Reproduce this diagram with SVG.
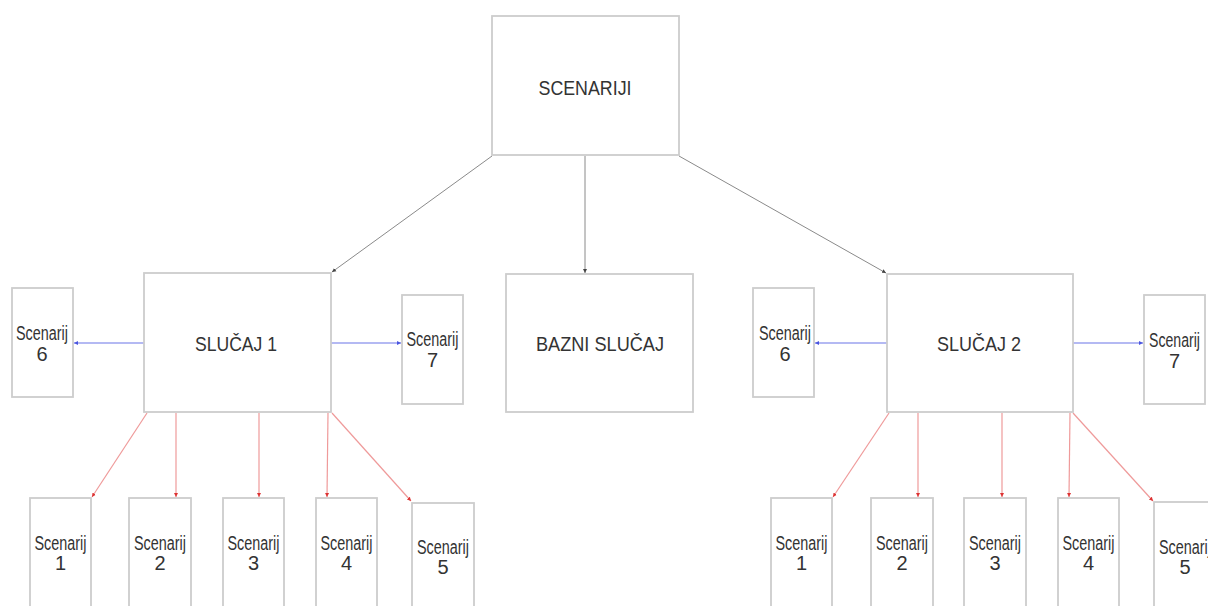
<svg xmlns="http://www.w3.org/2000/svg" width="1208" height="606" viewBox="0 0 1208 606">
<style>
.box{fill:#fff;stroke:#cdcdcd;stroke-width:1.8}
.t{font-family:"Liberation Sans",Arial,sans-serif;fill:#333;text-anchor:middle}
.big{font-size:21px}
.sm{font-size:20px}
.k{stroke:#8a8a8a;stroke-width:1;fill:none}
.b{stroke:#b4b9f3;stroke-width:2.2;fill:none}
.r{stroke:#ef9a9a;stroke-width:1.2;fill:none}
</style>
<defs>
<marker id="ak" markerWidth="5" markerHeight="5" refX="4" refY="2.5" orient="auto" markerUnits="userSpaceOnUse"><path d="M0,0.5 L4,2.5 L0,4.5Z" fill="#444"/></marker>
<marker id="ab" markerWidth="5" markerHeight="5" refX="4" refY="2.5" orient="auto" markerUnits="userSpaceOnUse"><path d="M0,0.5 L4,2.5 L0,4.5Z" fill="#4a55e0"/></marker>
<marker id="ar" markerWidth="5" markerHeight="5" refX="4" refY="2.5" orient="auto" markerUnits="userSpaceOnUse"><path d="M0,0.5 L4,2.5 L0,4.5Z" fill="#d33"/></marker>
</defs>
<rect width="1208" height="606" fill="#fff"/>
<g id="connectors">
<line class="k" x1="492" y1="156" x2="332" y2="272" marker-end="url(#ak)"/>
<line class="k" x1="585" y1="156" x2="585" y2="273" marker-end="url(#ak)"/>
<line class="k" x1="679" y1="156" x2="886" y2="273" marker-end="url(#ak)"/>
<line class="b" x1="144" y1="343" x2="74" y2="343" marker-end="url(#ab)"/>
<line class="b" x1="331" y1="343" x2="401" y2="343" marker-end="url(#ab)"/>
<line class="b" x1="887" y1="343" x2="815" y2="343" marker-end="url(#ab)"/>
<line class="b" x1="1073" y1="343" x2="1143" y2="343" marker-end="url(#ab)"/>
<line class="r" x1="147" y1="413" x2="92" y2="497" marker-end="url(#ar)"/>
<line class="r" x1="176" y1="413" x2="176" y2="497" marker-end="url(#ar)"/>
<line class="r" x1="259" y1="413" x2="259" y2="497" marker-end="url(#ar)"/>
<line class="r" x1="328" y1="413" x2="327" y2="497" marker-end="url(#ar)"/>
<line class="r" x1="332" y1="413" x2="411" y2="501" marker-end="url(#ar)"/>
<line class="r" x1="889" y1="413" x2="833" y2="497" marker-end="url(#ar)"/>
<line class="r" x1="918" y1="413" x2="918" y2="497" marker-end="url(#ar)"/>
<line class="r" x1="1002" y1="413" x2="1002" y2="497" marker-end="url(#ar)"/>
<line class="r" x1="1070" y1="413" x2="1069" y2="497" marker-end="url(#ar)"/>
<line class="r" x1="1073" y1="413" x2="1153" y2="501" marker-end="url(#ar)"/>
</g>
<g id="scenariji"><rect class="box" x="492" y="16" width="187" height="139"/><text class="t big" x="585" y="95" textLength="93" lengthAdjust="spacingAndGlyphs">SCENARIJI</text></g>
<g id="slucaj1"><rect class="box" x="144" y="273" width="187" height="139"/><text class="t big" x="236" y="351" textLength="82" lengthAdjust="spacingAndGlyphs">SLUČAJ 1</text></g>
<g id="bazni"><rect class="box" x="506" y="274" width="187" height="138"/><text class="t big" x="600" y="351" textLength="128" lengthAdjust="spacingAndGlyphs">BAZNI SLUČAJ</text></g>
<g id="slucaj2"><rect class="box" x="887" y="274" width="186" height="138"/><text class="t big" x="979" y="351" textLength="84" lengthAdjust="spacingAndGlyphs">SLUČAJ 2</text></g>
<g id="s1-6"><rect class="box" x="12" y="288" width="61" height="109"/><text class="t sm" x="42" y="340" textLength="52" lengthAdjust="spacingAndGlyphs">Scenarij</text><text class="t sm" x="42" y="361">6</text></g>
<g id="s1-7"><rect class="box" x="402" y="295" width="61" height="109"/><text class="t sm" x="432.5" y="346" textLength="52" lengthAdjust="spacingAndGlyphs">Scenarij</text><text class="t sm" x="432.5" y="367">7</text></g>
<g id="s2-6"><rect class="box" x="753" y="288" width="61" height="109"/><text class="t sm" x="785" y="340" textLength="52" lengthAdjust="spacingAndGlyphs">Scenarij</text><text class="t sm" x="785" y="361">6</text></g>
<g id="s2-7"><rect class="box" x="1144" y="295" width="61" height="109"/><text class="t sm" x="1174.5" y="347" textLength="51" lengthAdjust="spacingAndGlyphs">Scenarij</text><text class="t sm" x="1174.5" y="368">7</text></g>
<g id="s1-1"><rect class="box" x="30" y="498" width="61" height="130"/><text class="t sm" x="60.5" y="550" textLength="52" lengthAdjust="spacingAndGlyphs">Scenarij</text><text class="t sm" x="60.5" y="570">1</text></g>
<g id="s1-2"><rect class="box" x="129" y="498" width="62" height="130"/><text class="t sm" x="160" y="550" textLength="52" lengthAdjust="spacingAndGlyphs">Scenarij</text><text class="t sm" x="160" y="570">2</text></g>
<g id="s1-3"><rect class="box" x="223" y="498" width="61" height="130"/><text class="t sm" x="253.5" y="550" textLength="52" lengthAdjust="spacingAndGlyphs">Scenarij</text><text class="t sm" x="253.5" y="570">3</text></g>
<g id="s1-4"><rect class="box" x="316" y="498" width="61" height="130"/><text class="t sm" x="346.5" y="550" textLength="52" lengthAdjust="spacingAndGlyphs">Scenarij</text><text class="t sm" x="346.5" y="570">4</text></g>
<g id="s1-5"><rect class="box" x="412" y="503" width="62" height="130"/><text class="t sm" x="443" y="554" textLength="52" lengthAdjust="spacingAndGlyphs">Scenarij</text><text class="t sm" x="443" y="574">5</text></g>
<g id="s2-1"><rect class="box" x="771" y="498" width="61" height="130"/><text class="t sm" x="801.5" y="550" textLength="52" lengthAdjust="spacingAndGlyphs">Scenarij</text><text class="t sm" x="801.5" y="570">1</text></g>
<g id="s2-2"><rect class="box" x="871" y="498" width="62" height="130"/><text class="t sm" x="902" y="550" textLength="52" lengthAdjust="spacingAndGlyphs">Scenarij</text><text class="t sm" x="902" y="570">2</text></g>
<g id="s2-3"><rect class="box" x="964" y="498" width="62" height="130"/><text class="t sm" x="995" y="550" textLength="52" lengthAdjust="spacingAndGlyphs">Scenarij</text><text class="t sm" x="995" y="570">3</text></g>
<g id="s2-4"><rect class="box" x="1058" y="498" width="61" height="130"/><text class="t sm" x="1088.5" y="550" textLength="52" lengthAdjust="spacingAndGlyphs">Scenarij</text><text class="t sm" x="1088.5" y="570">4</text></g>
<g id="s2-5"><rect class="box" x="1154" y="502" width="62" height="130"/><text class="t sm" x="1185" y="554" textLength="52" lengthAdjust="spacingAndGlyphs">Scenarij</text><text class="t sm" x="1185" y="574">5</text></g>
</svg>
